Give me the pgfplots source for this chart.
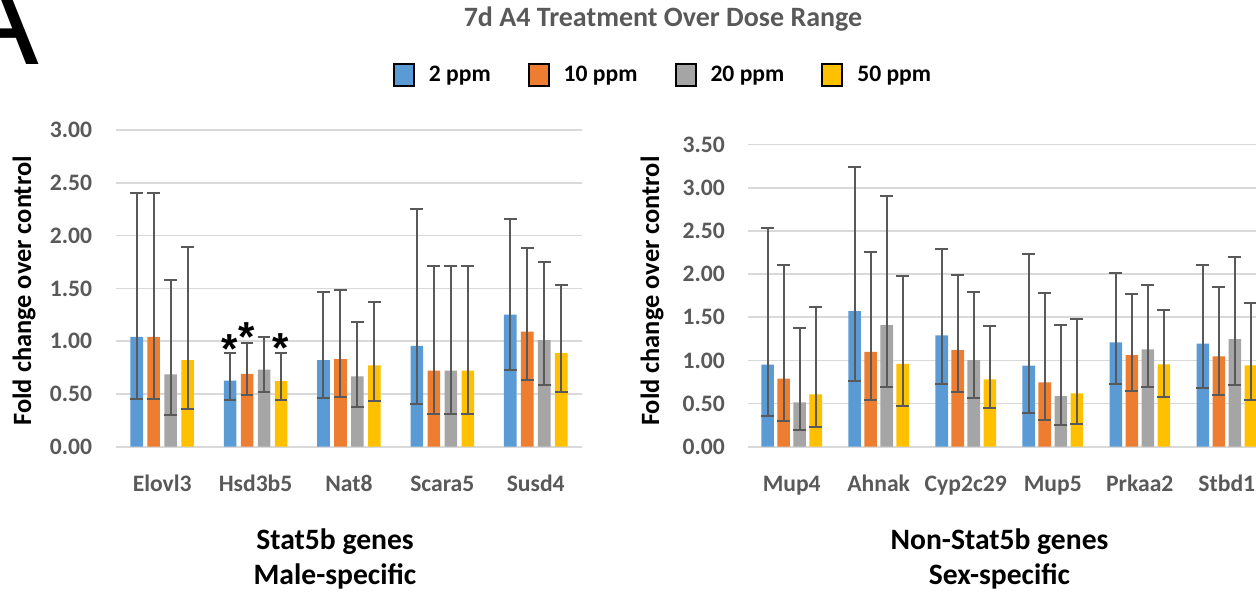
\documentclass[border=0pt]{standalone}
\usepackage{fontspec}
\setmainfont{Carlito}
\newfontfamily\arialfont{Liberation Sans}
\usepackage{pgfplots}
\pgfplotsset{compat=1.18}
\definecolor{cblue}{HTML}{5B9BD5}
\definecolor{corange}{HTML}{ED7D31}
\definecolor{cgray}{HTML}{A5A5A5}
\definecolor{cyellow}{HTML}{FFC000}
\definecolor{tgray}{HTML}{595959}
\definecolor{ebar}{HTML}{595959}
\definecolor{gridc}{HTML}{D9D9D9}
\pgfplotsset{
  mybars/.style={
    scale only axis,
    anchor=south west,
    ybar,
    ymin=0,
    axis line style={draw=none},
    tick style={draw=none},
    ymajorgrids,
    major grid style={draw=gridc, line width=0.8pt},
    yticklabel style={/pgf/number format/assume math mode=true,
      /pgf/number format/fixed, /pgf/number format/fixed zerofill,
      /pgf/number format/precision=2,
      font=\fontsize{11.8}{14}\selectfont\bfseries, color=tgray,
      inner sep=0pt, anchor=east, xshift=-11.5pt},
    xticklabel style={font=\fontsize{11.8}{14}\selectfont\bfseries, color=tgray,
      inner sep=0pt, anchor=base, yshift=-18.3pt},
    every axis plot/.append style={draw=none,
      /pgfplots/error bars/y dir=both,
      /pgfplots/error bars/y explicit,
      /pgfplots/error bars/error bar style={color=ebar, line width=1pt},
      /pgfplots/error bars/error mark options={rotate=90, color=ebar, mark size=3.2pt, line width=1pt}},
  }
}
\begin{document}
\begin{tikzpicture}
% Panel letter
\node[font=\arialfont\fontsize{65}{65}\selectfont, anchor=base east, inner sep=0pt] at (20pt,264.5pt) {A};
% Title
\node[font=\fontsize{14}{16}\selectfont\bfseries, color=tgray, anchor=base, inner sep=0pt] at (331.5pt,283.65pt) {7d A4 Treatment Over Dose Range};

% Left panel
\begin{axis}[mybars,
  at={(57.75pt,73.65pt)}, width=233.45pt, height=158.35pt,
  xmin=-0.5, xmax=4.5, ymax=3, ytick={0,0.5,1,1.5,2,2.5,3},
  xtick={0,1,2,3,4}, xticklabels={Elovl3,Hsd3b5,Nat8,Scara5,Susd4},
  bar width=0.135,
  ylabel={Fold change over control},
  every axis y label/.style={at={(axis description cs:-0.196,0.492)}, rotate=90, anchor=center,
    font=\fontsize{13.2}{15}\selectfont\bfseries, color=black},
  legend columns=4,
  legend style={draw=none, fill=none, at={(1.1705,1.1737)}, anchor=center,
    font=\fontsize{11.8}{14}\selectfont\bfseries, nodes={inner sep=0pt},
    /tikz/every odd column/.append style={column sep=7pt},
    /tikz/every even column/.append style={column sep=18.5pt}},
  legend image code/.code={\draw[#1, draw=black, line width=1pt] (0pt,-5.3pt) rectangle (10pt,5.3pt);},
]
\addplot[fill=cblue, bar shift=-0.273] coordinates {
 (0,1.04) += (0,1.36) -= (0,0.59)
 (1,0.625) += (0,0.265) -= (0,0.185)
 (2,0.82) += (0,0.645) -= (0,0.355)
 (3,0.955) += (0,1.295) -= (0,0.555)
 (4,1.25) += (0,0.91) -= (0,0.524)
};
\addlegendentry{2 ppm}
\addplot[fill=corange, bar shift=-0.091] coordinates {
 (0,1.04) += (0,1.36) -= (0,0.59)
 (1,0.69) += (0,0.295) -= (0,0.20)
 (2,0.83) += (0,0.65) -= (0,0.36)
 (3,0.72) += (0,0.99) -= (0,0.41)
 (4,1.09) += (0,0.79) -= (0,0.455)
};
\addlegendentry{10 ppm}
\addplot[fill=cgray, bar shift=0.091] coordinates {
 (0,0.685) += (0,0.895) -= (0,0.385)
 (1,0.73) += (0,0.31) -= (0,0.215)
 (2,0.665) += (0,0.52) -= (0,0.29)
 (3,0.72) += (0,0.995) -= (0,0.41)
 (4,1.01) += (0,0.735) -= (0,0.425)
};
\addlegendentry{20 ppm}
\addplot[fill=cyellow, bar shift=0.273] coordinates {
 (0,0.82) += (0,1.07) -= (0,0.46)
 (1,0.62) += (0,0.27) -= (0,0.18)
 (2,0.77) += (0,0.60) -= (0,0.335)
 (3,0.72) += (0,0.99) -= (0,0.41)
 (4,0.887) += (0,0.648) -= (0,0.372)
};
\addlegendentry{50 ppm}
\node[font=\arialfont\bfseries\fontsize{21}{21}\selectfont, inner sep=0pt, yshift=-3.3pt] at (axis cs:0.727,0.989) {*};
\node[font=\arialfont\bfseries\fontsize{21}{21}\selectfont, inner sep=0pt, yshift=-3.3pt] at (axis cs:0.909,1.098) {*};
\node[font=\arialfont\bfseries\fontsize{21}{21}\selectfont, inner sep=0pt, yshift=-3.3pt] at (axis cs:1.273,0.994) {*};
\end{axis}

% Right panel
\begin{axis}[mybars,
  at={(374.1pt,73.65pt)}, width=261.05pt, height=151pt,
  xmin=-0.5, xmax=5.5, ymax=3.5, ytick={0,0.5,1,1.5,2,2.5,3,3.5},
  xtick={0,1,2,3,4,5}, xticklabels={Mup4,Ahnak,Cyp2c29,Mup5,Prkaa2,Stbd1},
  bar width=0.144,
  ylabel={Fold change over control},
  every axis y label/.style={at={(axis description cs:-0.184,0.515)}, rotate=90, anchor=center,
    font=\fontsize{13.2}{15}\selectfont\bfseries, color=black},
]
\addplot[fill=cblue, bar shift=-0.276] coordinates {
 (0,0.95) += (0,1.58) -= (0,0.59)
 (1,1.57) += (0,1.67) -= (0,0.805)
 (2,1.29) += (0,1.005) -= (0,0.564)
 (3,0.94) += (0,1.297) -= (0,0.546)
 (4,1.21) += (0,0.80) -= (0,0.484)
 (5,1.194) += (0,0.911) -= (0,0.51)
};
\addplot[fill=corange, bar shift=-0.092] coordinates {
 (0,0.79) += (0,1.31) -= (0,0.49)
 (1,1.10) += (0,1.16) -= (0,0.563)
 (2,1.12) += (0,0.865) -= (0,0.49)
 (3,0.745) += (0,1.035) -= (0,0.432)
 (4,1.062) += (0,0.711) -= (0,0.417)
 (5,1.047) += (0,0.80) -= (0,0.448)
};
\addplot[fill=cgray, bar shift=0.092] coordinates {
 (0,0.515) += (0,0.86) -= (0,0.325)
 (1,1.41) += (0,1.50) -= (0,0.72)
 (2,1.004) += (0,0.786) -= (0,0.436)
 (3,0.587) += (0,0.819) -= (0,0.34)
 (4,1.128) += (0,0.749) -= (0,0.44)
 (5,1.248) += (0,0.95) -= (0,0.537)
};
\addplot[fill=cyellow, bar shift=0.276] coordinates {
 (0,0.605) += (0,1.015) -= (0,0.375)
 (1,0.96) += (0,1.02) -= (0,0.493)
 (2,0.78) += (0,0.615) -= (0,0.336)
 (3,0.618) += (0,0.865) -= (0,0.351)
 (4,0.954) += (0,0.63) -= (0,0.374)
 (5,0.943) += (0,0.722) -= (0,0.406)
};
\end{axis}

% Group labels
\node[align=center, font=\fontsize{14.8}{17.5}\selectfont\bfseries] at (167.5pt,17.75pt) {Stat5b genes\\Male-specific};
\node[align=center, font=\fontsize{14.8}{17.5}\selectfont\bfseries] at (499.75pt,17.75pt) {Non-Stat5b genes\\Sex-specific};

\pgfresetboundingbox
\useasboundingbox (0pt,0pt) rectangle (628pt,297pt);
\end{tikzpicture}
\end{document}
